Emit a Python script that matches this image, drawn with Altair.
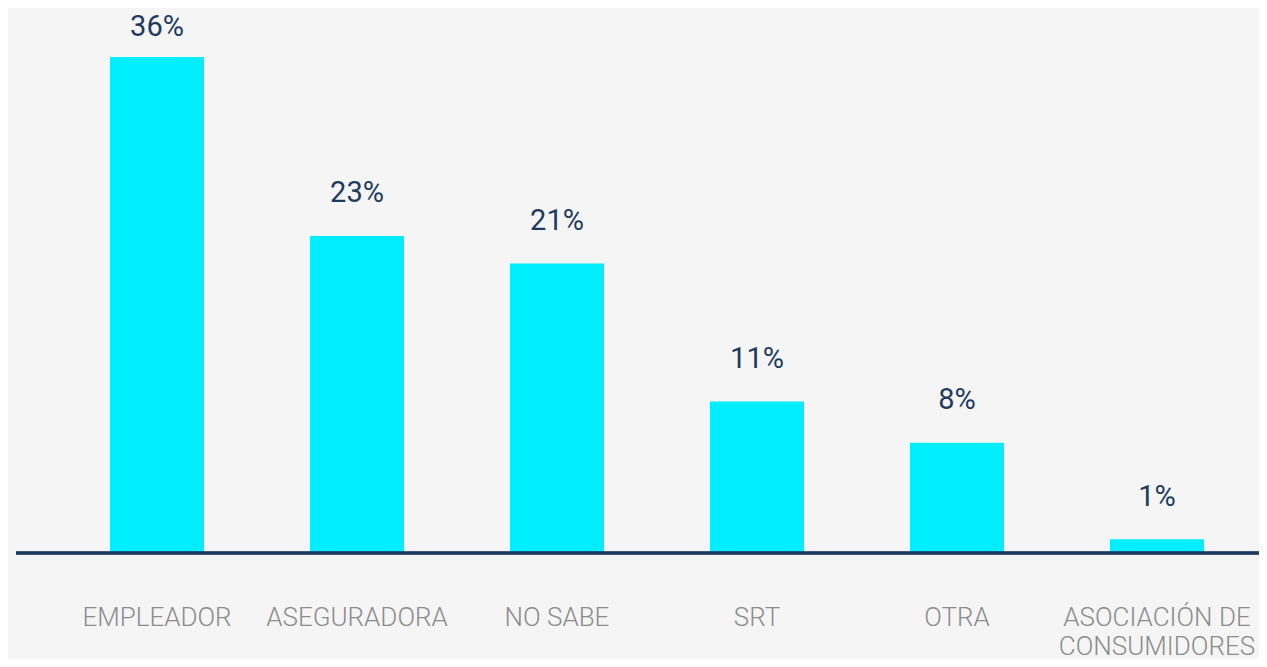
import altair as alt
import pandas as pd

categories = ["EMPLEADOR", "ASEGURADORA", "NO SABE", "SRT", "OTRA", "ASOCIACIÓN DE\nCONSUMIDORES"]
values = [36, 23, 21, 11, 8, 1]
labels = ["36%", "23%", "21%", "11%", "8%", "1%"]

df = pd.DataFrame({"cat": categories, "val": values, "lab": labels})

BAR = "#00EEFF"
NAVY = "#1E3A5F"
GRAY = "#8C8C8C"
BG = "#F5F5F5"
FONT = "Roboto"

x = alt.X(
    "cat:N",
    sort=categories,
    title=None,
    scale=alt.Scale(paddingInner=0.53, paddingOuter=0.265),
    axis=alt.Axis(
        domain=False,
        ticks=False,
        labelAngle=0,
        labelFont=FONT,
        labelFontSize=26,
        labelFontWeight=300,
        labelColor=GRAY,
        labelBaseline="top",
        labelPadding=51,
        labelLineHeight=29,
        labelLimit=400,
        labelExpr="split(datum.label, '\\n')",
    ),
)
yscale = alt.Scale(domain=[0, 39.55], nice=False, zero=True)
y = alt.Y("val:Q", title=None, scale=yscale, axis=None)

base = alt.Chart(df)
bars = base.mark_bar(color=BAR).encode(x=x, y=y)
rule = base.mark_rule(color=NAVY, strokeWidth=2.5).encode(
    x=alt.value(-41), x2=alt.value(1210), y=alt.value(545)
)
text = (
    base.transform_calculate(lpos="min(datum.val + 3.1, 38.2)")
    .mark_text(font=FONT, fontSize=29, color=NAVY, baseline="middle", align="center")
    .encode(x=x, y=alt.Y("lpos:Q", scale=yscale, axis=None), text="lab:N")
)

chart = (
    alt.layer(bars, rule, text)
    .properties(
        width=1200,
        height=545,
        background=BG,
        padding={"left": 49, "right": 2, "top": 0, "bottom": 106},
        autosize=alt.AutoSizeParams(type="none"),
    )
    .configure_view(stroke=None)
)

chart.save("out.html", embed_options={"renderer": "svg", "actions": False})
